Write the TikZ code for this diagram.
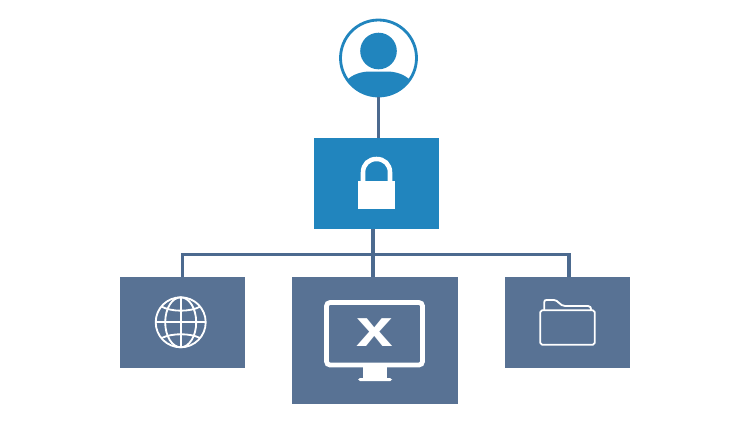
\documentclass[tikz,border=0pt]{standalone}
\usepackage{fontspec}
\setmainfont{Liberation Sans}
\definecolor{bluefill}{HTML}{2185BE}
\definecolor{slatefill}{HTML}{587294}
\definecolor{wire}{HTML}{4C6A8F}
\tikzset{
  box/.style={draw=none,minimum width=#1*0.02cm,inner sep=0pt},
  wired/.style={draw=wire,line width=1.9pt},
  icon/.style={draw=white,line width=1.05pt,line join=round}
}
\begin{document}
\begin{tikzpicture}[x=0.02cm,y=-0.02cm]
\useasboundingbox (0,0) rectangle (750,423);
\node[circle,draw=bluefill,fill=white,line width=1.6pt,minimum size=1.52cm,inner sep=0pt] (user) at (378.5,58) {};
\begin{scope}
\clip (378.5,58) circle (38);
\fill[bluefill] (347,80) .. controls (353,74) and (362,71.5) .. (370,71.5) -- (387,71.5) .. controls (395,71.5) and (404,74) .. (410,80) -- (410,100) -- (347,100) -- cycle;
\end{scope}
\fill[bluefill] (378.5,51) circle (18.3);
\node[box=125,minimum height=1.82cm,fill=bluefill] (lock) at (376.5,183.5) {};
\node[box=125,minimum height=1.82cm,fill=slatefill] (web) at (182.5,322.5) {};
\node[box=166,minimum height=2.54cm,fill=slatefill] (screen) at (375,340.5) {};
\node[box=125,minimum height=1.82cm,fill=slatefill] (files) at (567.5,322.5) {};
\coordinate (busmid) at (373,254.5);
\coordinate (busright) at (569,254.5);
\draw[wired] (user.south) -- (user.south |- lock.north);
\draw[wired] (busmid |- lock.south) -- (busmid |- screen.north);
\draw[wired] (web.north) |- (busright) -- (busright |- files.north);
% lock
\fill[white] (357.7,180.7) rectangle (395,208.7);
\draw[white,line width=2.6pt] (363,181) -- (363,172.5) .. controls (363,164) and (369,159) .. (376.5,159) .. controls (384,159) and (390,164) .. (390,172.5) -- (390,181);
% globe
\draw[icon] (180.7,322.3) circle (25);
\draw[icon] (180.7,322.3) ellipse [x radius=15.5,y radius=25];
\draw[icon] (155.7,322.3) -- (205.7,322.3);
\draw[icon] (180.7,297.3) -- (180.7,347.3);
\draw[icon] (161.7,306.7) .. controls (172,312) and (190,312) .. (200,306.7);
\draw[icon] (161.7,338) .. controls (172,333) and (190,333) .. (200,338);
% monitor
\draw[white,line width=2.7pt,rounded corners=2pt] (326.5,302.5) rectangle (422.5,365);
\fill[white] (362.7,366) rectangle (386.7,379);
\fill[white,rounded corners=1pt] (358,378) rectangle (392,381);
\node[text=white,font=\fontsize{30}{30}\selectfont\bfseries,inner sep=0pt] (mark) at (375,332.5) {\scalebox{1.25}[1]{x}};
% folder
\draw[icon] (544.3,310.3) -- (544.3,302) .. controls (544.3,300.5) and (545,300) .. (546.5,300) -- (554,300) .. controls (558,300) and (560,306) .. (565,306) -- (588,306) .. controls (590,306) and (591,307) .. (591,310.3);
\draw[icon,rounded corners=1pt] (540.3,310.3) rectangle (594.7,344.7);
\end{tikzpicture}
\end{document}
